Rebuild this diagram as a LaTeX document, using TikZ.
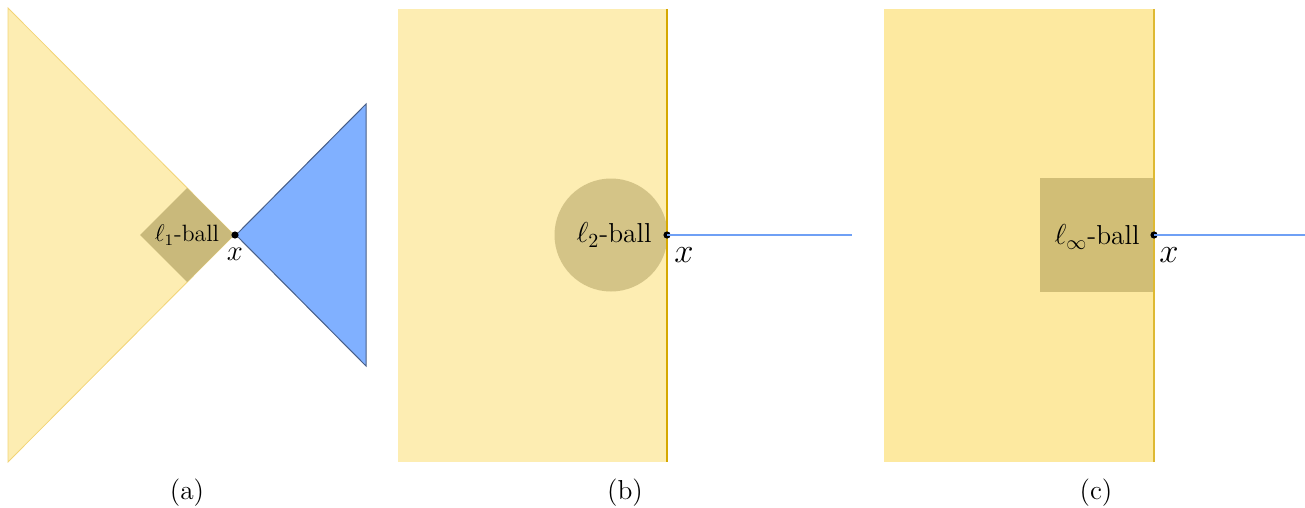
\documentclass[tikz,border=0pt]{standalone}
\usetikzlibrary{shapes.geometric}
\definecolor{ylight}{HTML}{FDEDB2}
\definecolor{ydeep}{HTML}{FDE9A0}
\definecolor{yedge}{HTML}{F2D476}
\definecolor{gold}{HTML}{D6A800}
\definecolor{olivea}{HTML}{C9B97B}
\definecolor{oliveb}{HTML}{D4C487}
\definecolor{olivec}{HTML}{D1BE76}
\definecolor{bluefill}{HTML}{80B0FF}
\definecolor{blueedge}{HTML}{485F88}
\definecolor{blueline}{HTML}{6FA0F5}
\tikzset{
  dotpt/.style={circle,fill=black,inner sep=0pt,minimum size=3.6pt},
  balllabel/.style={font=\fontsize{13.7}{16}\selectfont,inner sep=0pt},
  smalllabel/.style={font=\fontsize{11.8}{14}\selectfont,inner sep=0pt},
  xlabel/.style={font=\fontsize{18.5}{21}\selectfont,inner sep=0pt},
  xlabelsmall/.style={font=\fontsize{15.5}{18}\selectfont,inner sep=0pt},
  caption/.style={font=\fontsize{13.7}{16}\selectfont,inner sep=0pt}
}
\begin{document}
\begin{tikzpicture}[x=0.5pt,y=-0.5pt]
\useasboundingbox (0,0) rectangle (1305,508);
% ---------- (a)
\fill[ylight,draw=yedge,line width=0.4pt] (8,8) -- (234,235) -- (8,462) -- cycle;
\fill[bluefill,draw=blueedge,line width=0.5pt] (236,235) -- (366,104) -- (366,366) -- cycle;
\fill[olivea] (140,235) -- (187,188) -- (234,235) -- (187,282) -- cycle;
\node[smalllabel] (la) at (187,235) {$\ell_1$-ball};
\node[dotpt] (xa) at (235,235) {};
\node[xlabelsmall] (xla) at (235,254) {$x$};
\node[caption] (ca) at (187,493) {(a)};
% ---------- (b)
\fill[ylight] (398,9) rectangle (667,462);
\fill[oliveb] (611,235) circle (56.5);
\draw[gold,line width=1pt] (667,9) -- (667,462);
\node[balllabel] (lb) at (614,235) {$\ell_2$-ball};
\node[dotpt] (xb) at (667,235) {};
\coordinate (eb) at (852,235);
\draw[blueline,line width=0.8pt] (xb.center) -- (eb);
\node[xlabel] (xlb) at (684,255) {$x$};
\node[caption] (cb) at (625,493) {(b)};
% ---------- (c)
\fill[ydeep] (884,9) rectangle (1154,462);
\fill[olivec] (1040,178) rectangle (1154,292);
\draw[gold!80,line width=0.6pt] (1154,9) -- (1154,462);
\node[balllabel] (lc) at (1097,237) {$\ell_\infty$-ball};
\node[dotpt] (xc) at (1154,235) {};
\coordinate (ec) at (1305,235);
\draw[blueline,line width=1.3pt] (xc.center) -- (ec);
\node[xlabel] (xlc) at (1169,255) {$x$};
\node[caption] (cc) at (1096,493) {(c)};
\end{tikzpicture}
\end{document}
